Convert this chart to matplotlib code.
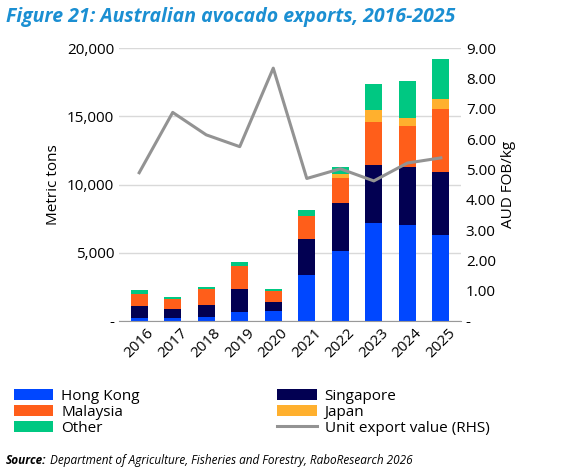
import matplotlib
matplotlib.use('Agg')
import matplotlib.pyplot as plt
import numpy as np

plt.rcParams['font.family'] = ['Open Sans', 'DejaVu Sans']

years = ['2016', '2017', '2018', '2019', '2020', '2021', '2022', '2023', '2024', '2025']
hong_kong = [200, 220, 290, 660, 710, 3390, 5150, 7210, 7070, 6280]
singapore = [880, 690, 890, 1650, 710, 2650, 3490, 4250, 4220, 4620]
malaysia = [860, 690, 1180, 1690, 790, 1670, 1840, 3140, 3020, 4660]
japan = [0, 0, 0, 0, 0, 0, 320, 840, 560, 690]
other = [320, 120, 140, 320, 100, 440, 460, 1930, 2730, 2940]
unit_value = [4.89, 6.88, 6.14, 5.75, 8.34, 4.70, 5.02, 4.62, 5.21, 5.38]

series = [('Hong Kong', hong_kong, '#0047ff'), ('Singapore', singapore, '#020052'),
          ('Malaysia', malaysia, '#ff5e1a'), ('Japan', japan, '#ffb02e'),
          ('Other', other, '#00c882')]

fig = plt.figure(figsize=(5.67, 4.72), dpi=100)
ax = fig.add_axes([0.21, 0.32, 0.603, 0.578])
x = np.arange(len(years))
bottom = np.zeros(len(years))
handles = {}
for name, vals, col in series:
    handles[name] = ax.bar(x, vals, 0.5, bottom=bottom, color=col, label=name, zorder=2)
    bottom += np.array(vals)

ax.set_ylim(0, 20000)
ax.set_yticks([0, 5000, 10000, 15000, 20000])
ax.set_yticklabels(['-', '5,000', '10,000', '15,000', '20,000'])
ax.set_xlim(-0.6, 9.6)
ax.set_xticks(x)
ax.set_xticklabels(years, rotation=45, fontsize=11)
ax.grid(axis='y', color='#d9d9d9', lw=1, zorder=0)
for s in ['top', 'right', 'left']:
    ax.spines[s].set_visible(False)
ax.spines['bottom'].set_color('#999999')
ax.tick_params(length=0, labelsize=11)
ax.set_ylabel('Metric tons', fontsize=11)

ax2 = ax.twinx()
ln, = ax2.plot(x, unit_value, color='#939393', lw=2.2)
ax2.set_ylim(0, 9)
ax2.set_yticks(range(10))
ax2.set_yticklabels(['-'] + [f'{v:.2f}' for v in range(1, 10)])
for s in ax2.spines.values():
    s.set_visible(False)
ax2.tick_params(length=0, labelsize=11)
ax2.set_ylabel('AUD FOB/kg', fontsize=11)

# column-major order so rows read HK/Singapore, Malaysia/Japan, Other/Unit
order = [handles['Hong Kong'], handles['Malaysia'], handles['Other'],
         handles['Singapore'], handles['Japan'], ln]
labels = ['Hong Kong', 'Malaysia', 'Other', 'Singapore', 'Japan', 'Unit export value (RHS)']
fig.legend(order, labels, ncol=2, loc='upper left', bbox_to_anchor=(0.0, 0.205),
           frameon=False, fontsize=11, handlelength=2.6, columnspacing=9.0,
           labelspacing=0.05, handletextpad=0.5)

fig.text(0.01, 0.965, 'Figure 21: Australian avocado exports, 2016-2025', fontsize=14,
         fontweight='bold', style='italic', color='#1b8fd2', va='center')
fig.text(0.01, 0.025, 'Source:', fontsize=8.5, fontweight='bold', style='italic', va='center')
fig.text(0.088, 0.025, 'Department of Agriculture, Fisheries and Forestry, RaboResearch 2026',
         fontsize=8.5, style='italic', va='center')

fig.savefig('out.png')
